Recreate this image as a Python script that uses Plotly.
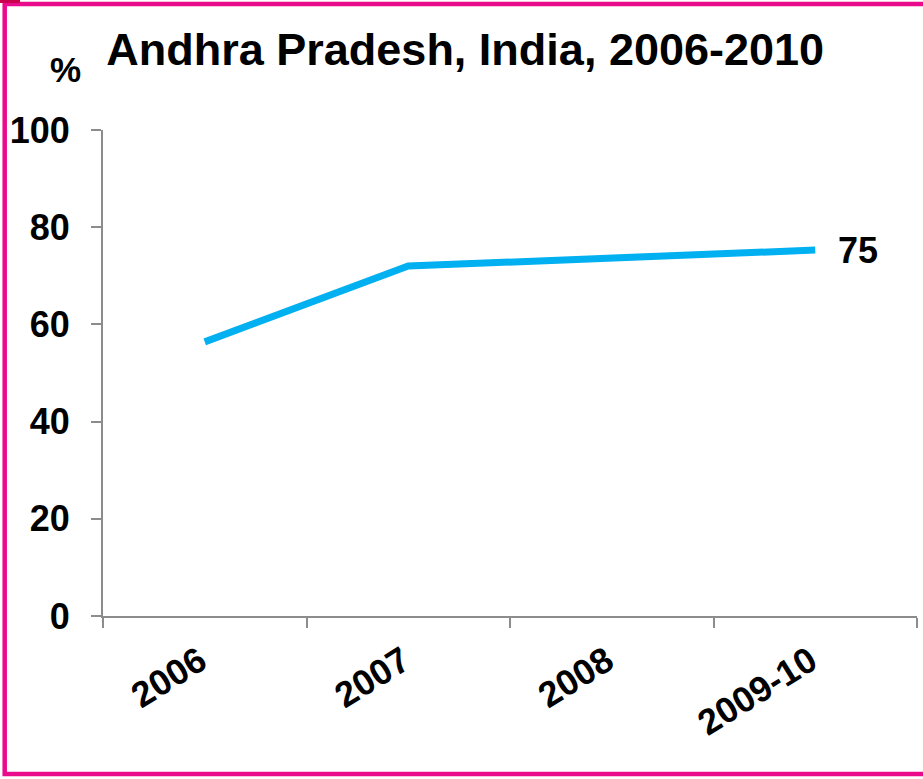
import plotly.graph_objects as go

categories = ["2006", "2007", "2008", "2009-10"]
values = [56.4, 72.0, None, 75.3]
y_ticks = [0, 20, 40, 60, 80, 100]

W, H = 923, 779
L, R, T, B = 103, 6, 130, 163
pw, ph = W - L - R, H - T - B

def px(x):
    return (x - L) / pw

def py(y):
    return (H - B - y) / ph

FONT = "Liberation Sans, Arial, sans-serif"
PINK = "#EA0A8C"
BLUE = "#00B0F0"
AXIS = "#8C8C8C"

fig = go.Figure()
fig.add_trace(go.Scatter(
    x=categories, y=values, mode="lines", connectgaps=True,
    line=dict(color=BLUE, width=7), hoverinfo="skip", showlegend=False,
))

last_val = values[-1]
fig.add_annotation(
    x=categories[-1], y=last_val, text=f"{round(last_val):d}",
    showarrow=False, xanchor="left", yanchor="middle", xshift=21,
    font=dict(family=FONT, size=36, color="black", weight="bold"),
)
fig.add_annotation(
    x=px(65), y=py(70), xref="paper", yref="paper", text="%",
    showarrow=False, xanchor="center", yanchor="middle",
    font=dict(family=FONT, size=35, color="black", weight="bold"),
)

fig.add_shape(type="rect", xref="paper", yref="paper",
              x0=px(4.7), x1=px(935), y0=py(774), y1=py(4),
              line=dict(color=PINK, width=4.5), layer="above")
fig.add_shape(type="rect", xref="paper", yref="paper",
              x0=px(0), x1=px(20), y0=py(3), y1=py(0),
              line=dict(width=0), fillcolor="#C8004E", layer="above")

fig.update_layout(
    width=W, height=H,
    margin=dict(l=L, r=R, t=T, b=B),
    paper_bgcolor="white", plot_bgcolor="white",
    title=dict(text="Andhra Pradesh, India, 2006-2010", x=0.504, xref="container",
               xanchor="center", y=1 - 49 / H, yref="container", yanchor="middle",
               font=dict(family=FONT, size=45, color="black", weight="bold")),
    xaxis=dict(type="category", categoryorder="array", categoryarray=categories,
               range=[-0.5, 3.5], tickson="boundaries", ticks="outside", ticklen=10,
               tickwidth=2, tickcolor=AXIS, showline=True, linecolor=AXIS, linewidth=2,
               showgrid=False, zeroline=False, tickangle=-32, ticklabelstandoff=8,
               ticklabelshift=-5,
               tickfont=dict(family=FONT, size=36, color="black", weight="bold")),
    yaxis=dict(range=[0, 100], tickvals=y_ticks, ticks="outside", ticklen=10,
               tickwidth=2, tickcolor=AXIS, showline=True, linecolor=AXIS, linewidth=2,
               showgrid=False, zeroline=False, ticklabelstandoff=14,
               tickfont=dict(family=FONT, size=36, color="black", weight="bold")),
)

fig.write_html("out.html", config={"displayModeBar": False},
               post_script="document.body.style.margin='0px';document.body.style.overflow='hidden';")
